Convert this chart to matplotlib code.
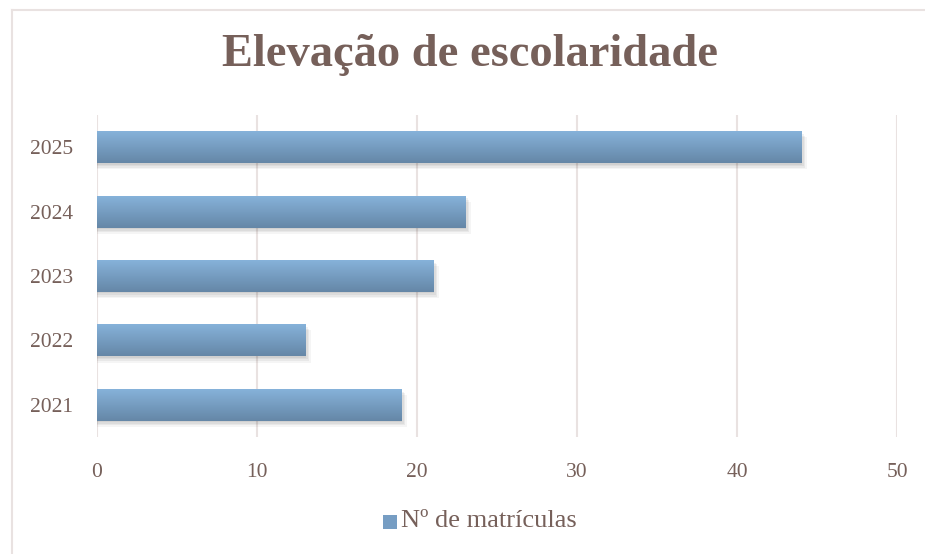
import numpy as np
import matplotlib.pyplot as plt
from matplotlib.colors import LinearSegmentedColormap
from matplotlib.patches import Rectangle

# Data
years = ['2021', '2022', '2023', '2024', '2025']
matriculas = [19, 13, 21, 23, 44]
x_ticks = [0, 10, 20, 30, 40, 50]

title = 'Elevação de escolaridade'
legend_label = 'Nº de matrículas'

text_color = '#76605A'
grid_color = '#E9E2E1'
bar_top = '#87B3DB'
bar_bottom = '#6587A7'

plt.rcParams['font.family'] = ['Liberation Serif', 'DejaVu Serif']

fig = plt.figure(figsize=(9.25, 5.54), dpi=100)
ax = fig.add_axes([97 / 925, 1 - 437 / 554, 800 / 925, 322 / 554])

# frame around the chart area
fig.add_artist(plt.Line2D([12 / 925, 1], [1 - 10 / 554, 1 - 10 / 554],
                          transform=fig.transFigure, color=grid_color, lw=1.5))
fig.add_artist(plt.Line2D([12 / 925, 12 / 925], [0, 1 - 10 / 554],
                          transform=fig.transFigure, color=grid_color, lw=1.5))

ypos = np.arange(len(years))
bar_h = 0.5

# gradient colormap for the bars
cmap = LinearSegmentedColormap.from_list('bar', [bar_bottom, bar_top])
grad = np.linspace(0, 1, 64).reshape(-1, 1)

for y, v in zip(ypos, matriculas):
    # soft shadow
    for k, a in enumerate([0.05, 0.05, 0.05, 0.04]):
        off = 0.02 + 0.025 * k
        ax.add_patch(Rectangle((0, y - bar_h / 2 - off), v + off * 4, bar_h,
                               color='#000000', alpha=a, lw=0, zorder=2))
    bars = ax.barh(y, v, height=bar_h, color='none', zorder=3)
    patch = bars[0]
    im = ax.imshow(grad, cmap=cmap, aspect='auto', origin='lower',
                   extent=[0, v, y - bar_h / 2, y + bar_h / 2], zorder=3)
    im.set_clip_path(patch)

ax.set_xlim(0, 50)
ax.set_ylim(-0.5, 4.5)
ax.set_xticks(x_ticks)
ax.set_yticks(ypos)
ax.set_yticklabels(years)
ax.grid(axis='x', color=grid_color, lw=1.5, zorder=0)
ax.set_axisbelow(True)
for s in ax.spines.values():
    s.set_visible(False)
ax.tick_params(axis='both', length=0, colors=text_color, labelsize=15.5)
ax.tick_params(axis='x', pad=19)
ax.tick_params(axis='y', pad=17)

fig.text(0.508, 1 - 55 / 554, title, ha='center', va='center',
         fontsize=33.5, fontweight='bold', color=text_color)

# legend
fig.add_artist(Rectangle((383 / 925, 1 - 529 / 554), 14 / 925, 14 / 554,
                         transform=fig.transFigure, facecolor='#769DC3',
                         edgecolor='none'))
fig.text(401 / 925, 1 - 521 / 554, legend_label, ha='left', va='center',
         fontsize=19, color=text_color)

fig.savefig('out.png', dpi=100)
